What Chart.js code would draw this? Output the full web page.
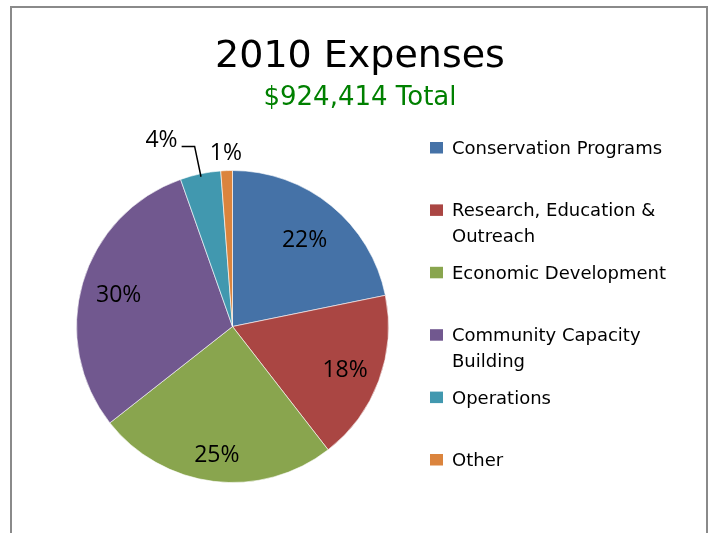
<!DOCTYPE html>
<html>
<head>
<meta charset="utf-8">
<script src="https://cdn.jsdelivr.net/npm/chart.js@4.4.1/dist/chart.umd.min.js"></script>
<style>
    html, body { margin: 0; padding: 0; background: #fff; }
    #wrap { width: 713px; height: 533px; }
</style>
</head>
<body>
<div id="wrap"><canvas id="expensesChart" width="713" height="533"></canvas></div>
<script>
// Datos del gráfico
const chartTitle = "2010 Expenses";
const chartSubtitle = "$924,414 Total";
const categories = [
    "Conservation Programs",
    ["Research, Education &", "Outreach"],
    "Economic Development",
    ["Community Capacity", "Building"],
    "Operations",
    "Other"
];
const expenseShares = [21.8, 17.7, 24.9, 30.2, 4.2, 1.2];

// Estilos
const sliceColors = ["#4572A7", "#AA4643", "#89A54E", "#71588F", "#4198AF", "#DB843D"];
const labelPlacement = ["inside", "inside", "inside", "inside", "leader", "outside"];
const labelRadius = [0.73, 0.77, 0.82, 0.76, 1, 1.12];

// Marco gris alrededor del gráfico
const framePlugin = {
    id: 'frame',
    beforeDraw(chart) {
        const ctx = chart.ctx;
        ctx.save();
        ctx.strokeStyle = '#8a8a8a';
        ctx.lineWidth = 2;
        ctx.beginPath();
        ctx.moveTo(11, chart.height);
        ctx.lineTo(11, 7);
        ctx.lineTo(707, 7);
        ctx.lineTo(707, chart.height);
        ctx.stroke();
        ctx.restore();
    }
};

// Título, subtítulo y leyenda
const textPlugin = {
    id: 'texts',
    afterDraw(chart) {
        const ctx = chart.ctx;
        ctx.save();
        ctx.textAlign = 'center';
        ctx.textBaseline = 'alphabetic';
        ctx.fillStyle = '#000';
        ctx.font = '38px "DejaVu Sans"';
        ctx.fillText(chartTitle, 360, 67);
        ctx.fillStyle = '#008000';
        ctx.font = '26px "DejaVu Sans"';
        ctx.fillText(chartSubtitle, 360, 105);

        // Leyenda a la derecha
        ctx.textAlign = 'left';
        ctx.font = '18px "DejaVu Sans"';
        chart.data.labels.forEach((label, i) => {
            const lines = Array.isArray(label) ? label : [label];
            const base = 154 + i * 62.4;
            ctx.fillStyle = sliceColors[i];
            ctx.fillRect(430, base - 12, 13, 11.5);
            ctx.fillStyle = '#000';
            lines.forEach((ln, j) => ctx.fillText(ln, 452, base + j * 25.5));
        });
        ctx.restore();
    }
};

// Etiquetas de porcentaje
const pctPlugin = {
    id: 'pctLabels',
    afterDatasetsDraw(chart) {
        const ctx = chart.ctx;
        const meta = chart.getDatasetMeta(0);
        const total = expenseShares.reduce((a, b) => a + b, 0);
        ctx.save();
        ctx.font = '23px "Open Sans"';
        ctx.fillStyle = '#000';
        ctx.strokeStyle = '#000';
        meta.data.forEach((arc, i) => {
            const p = arc.getProps(['x', 'y', 'startAngle', 'endAngle', 'outerRadius'], true);
            const mid = (p.startAngle + p.endAngle) / 2;
            const cos = Math.cos(mid), sin = Math.sin(mid);
            const text = Math.round(expenseShares[i] / total * 100) + '%';
            if (labelPlacement[i] === 'leader') {
                const sx = p.x + cos * (p.outerRadius - 3), sy = p.y + sin * (p.outerRadius - 3);
                const ex = p.x + cos * (p.outerRadius + 28), ey = p.y + sin * (p.outerRadius + 28);
                ctx.lineWidth = 1.5;
                ctx.beginPath();
                ctx.moveTo(sx, sy);
                ctx.lineTo(ex, ey);
                ctx.lineTo(ex - 13, ey);
                ctx.stroke();
                ctx.textAlign = 'right';
                ctx.textBaseline = 'alphabetic';
                ctx.fillText(text, ex - 17, ey + 1);
            } else {
                const r = p.outerRadius * labelRadius[i];
                ctx.textAlign = 'center';
                ctx.textBaseline = 'middle';
                ctx.fillText(text, p.x + cos * r, p.y + sin * r + 2);
            }
        });
        ctx.restore();
    }
};

const ctx = document.getElementById('expensesChart').getContext('2d');
const expensesChart = new Chart(ctx, {
    type: 'pie',
    data: {
        labels: categories,
        datasets: [{
            data: expenseShares,
            backgroundColor: sliceColors,
            borderColor: 'rgba(255,255,255,0.6)',
            borderWidth: 1
        }]
    },
    options: {
        responsive: false,
        animation: false,
        layout: { padding: { left: 76, right: 324, top: 170, bottom: 50 } },
        plugins: {
            legend: { display: false },
            tooltip: { enabled: false }
        }
    },
    plugins: [framePlugin, pctPlugin, textPlugin]
});
</script>
</body>
</html>
